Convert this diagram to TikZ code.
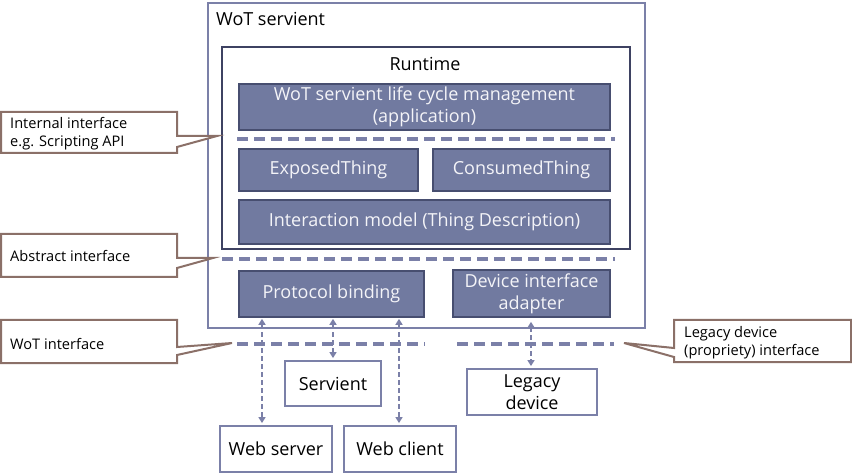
\documentclass[tikz,border=0pt]{standalone}
\usepackage{fontspec}
\setmainfont{Open Sans}
\usetikzlibrary{arrows.meta}
\definecolor{fillblue}{HTML}{717AA0}
\definecolor{darkedge}{HTML}{474E70}
\definecolor{outeredge}{HTML}{7B80A8}
\definecolor{rtedge}{HTML}{3E4262}
\definecolor{brownedge}{HTML}{8B7068}
\definecolor{offwhite}{HTML}{F4F4F8}
\tikzset{
  x=1pt, y=-1pt,
  bluebox/.style={draw=darkedge, line width=1.6pt, fill=fillblue, text=offwhite,
    inner sep=0pt, align=center, font=\fontsize{18}{22}\selectfont},
  whitebox/.style={draw=outeredge, line width=2.8pt, fill=white, text=black,
    inner sep=0pt, align=center, font=\fontsize{18}{22}\selectfont},
  sepline/.style={draw=outeredge, line width=3.8pt, dash pattern=on 11pt off 6pt},
  darr/.style={draw=outeredge, line width=1.5pt, dash pattern=on 5pt off 3pt,
    {Triangle[length=6pt,width=7pt]}-{Triangle[length=6pt,width=7pt]}},
  callout/.style={draw=brownedge, line width=2pt, fill=white},
  callouttext/.style={anchor=west, align=left, inner sep=0pt, font=\fontsize{14.6}{18}\selectfont},
}
\begin{document}
\begin{tikzpicture}
\useasboundingbox (0,0) rectangle (852,473);
% outer servient
\node[draw=outeredge, line width=2.8pt, minimum width=437pt, minimum height=325pt, inner sep=0pt] (outer) at (426.5,165.5) {};
\node[anchor=west, inner sep=0pt, font=\fontsize{18}{22}\selectfont] (outerlabel) at (216,19) {WoT servient};
% runtime
\node[draw=rtedge, line width=1.6pt, minimum width=408pt, minimum height=202pt, inner sep=0pt] (runtime) at (426,148) {};
\node[inner sep=0pt, font=\fontsize{18}{22}\selectfont] (rtlabel) at (425,64) {Runtime};
% blue boxes
\node[bluebox, minimum width=371pt, minimum height=46pt] (life) at (424.5,107) {WoT servient life cycle management\\(application)};
\node[bluebox, minimum width=179pt, minimum height=42pt] (exposed) at (328.5,170) {ExposedThing};
\node[bluebox, minimum width=177pt, minimum height=42pt] (consumed) at (521.5,170) {ConsumedThing};
\node[bluebox, minimum width=371pt, minimum height=44pt] (interaction) at (424.5,222) {Interaction model (Thing Description)};
\node[bluebox, minimum width=185pt, minimum height=46pt] (protocol) at (331.5,294) {Protocol binding};
\node[bluebox, minimum width=157pt, minimum height=47pt] (adapter) at (531.5,293.5) {Device interface\\adapter};
% white boxes
\node[whitebox, minimum width=96pt, minimum height=45pt] (servient) at (333,383.5) {Servient};
\node[whitebox, minimum width=130pt, minimum height=46pt] (legacy) at (532,392) {Legacy\\device};
\node[whitebox, minimum width=112pt, minimum height=46pt] (webserver) at (276,449) {Web server};
\node[whitebox, minimum width=112pt, minimum height=46pt] (webclient) at (400,449) {Web client};
% separators
\coordinate (s1a) at (237,139); \coordinate (s1b) at (615,139);
\coordinate (s2a) at (222,259); \coordinate (s2b) at (615,259);
\coordinate (s3a) at (237,344); \coordinate (s3b) at (425,344);
\coordinate (s4a) at (457,344); \coordinate (s4b) at (614,344);
\draw[sepline] (s1a) -- (s1b);
\draw[sepline] (s2a) -- (s2b);
\draw[sepline] (s3a) -- (s3b);
\draw[sepline] (s4a) -- (s4b);
% arrows
\coordinate (xa) at (262,0);
\coordinate (xb) at (333,0);
\coordinate (xc) at (399,0);
\coordinate (xd) at (531,0);
\draw[darr, shorten <=1pt, shorten >=1.5pt] (protocol.south -| xa) -- (webserver.north -| xa);
\draw[darr, shorten <=1pt, shorten >=1.5pt] (protocol.south -| xb) -- (servient.north -| xb);
\draw[darr, shorten <=1pt, shorten >=1.5pt] (protocol.south -| xc) -- (webclient.north -| xc);
\draw[darr, shorten <=4pt, shorten >=1.5pt] (adapter.south -| xd) -- (legacy.north -| xd);
% callouts
\draw[callout] (1,112) -- (177,112) -- (177,136) -- (217,136) -- (177,147) -- (177,153) -- (1,153) -- cycle;
\node[callouttext] (c1) at (10,134) {Internal interface\\e.g. Scripting API};
\draw[callout] (1,234) -- (177,234) -- (177,258) -- (213,258) -- (177,268) -- (177,277) -- (1,277) -- cycle;
\node[callouttext] (c2) at (10,256) {Abstract interface};
\draw[callout] (1,320) -- (177,320) -- (177,347) -- (232,343) -- (177,355) -- (177,363) -- (1,363) -- cycle;
\node[callouttext] (c3) at (10,343.5) {WoT interface};
\draw[callout] (851,320) -- (674,320) -- (674,348) -- (624,343) -- (674,357) -- (674,362) -- (851,362) -- cycle;
\node[callouttext] (c4) at (684,342.5) {Legacy device\\(propriety) interface};
\end{tikzpicture}
\end{document}
